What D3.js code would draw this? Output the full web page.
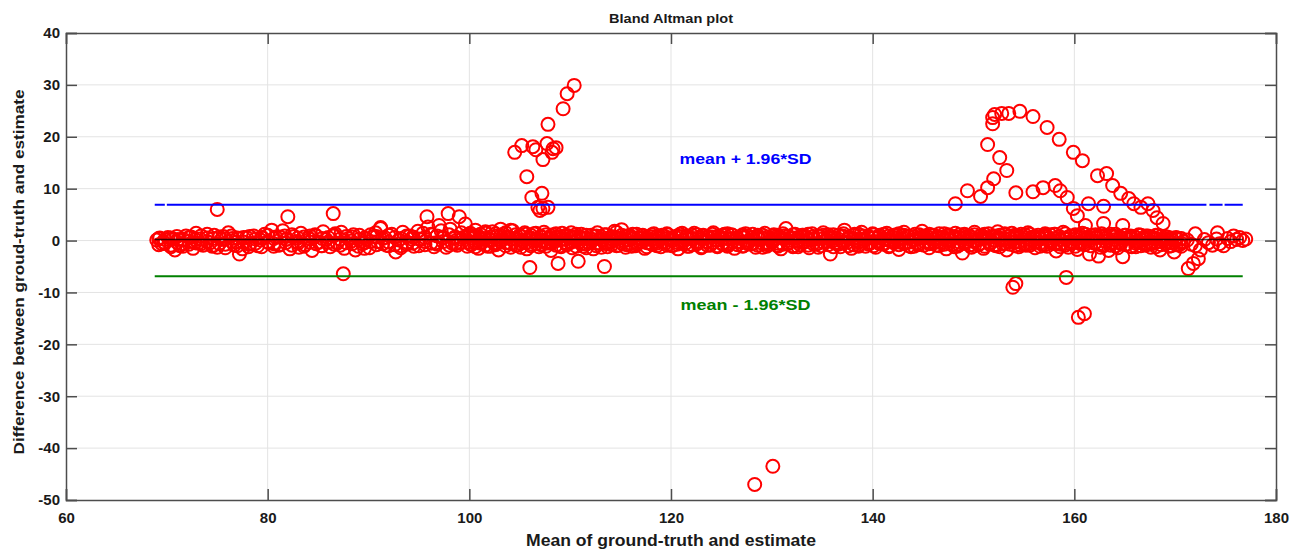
<!DOCTYPE html>
<html>
<head>
<meta charset="utf-8">
<script src="https://cdn.jsdelivr.net/npm/d3@7"></script>
<style>
  body { margin: 0; background: #fff; }
  text { font-family: "Liberation Sans", Arial, sans-serif; font-weight: bold; }
</style>
</head>
<body>
<svg id="chart" width="1298" height="554"></svg>
<script>
var xTicks = [60, 80, 100, 120, 140, 160, 180];
var yTicks = [-50, -40, -30, -20, -10, 0, 10, 20, 30, 40];

// mean difference and limits of agreement
var meanDiff = 0.2;
var upperLimit = 6.9;
var lowerLimit = -6.9;
var lineRange = [68.8, 176.7];
var upperSegments = [[68.8, 69.8], [70.0, 173.1], [173.4, 174.7], [174.9, 176.7]];

// band of points near zero
var bandPoints = [
  [69.0,0.1],[69.3,0.5],[69.7,-0.3],[70.1,0.6],[70.4,-1.2],[70.8,-1.8],[71.1,0.2],[71.5,-0.6],[71.9,0.9],[72.2,-0.2],
  [72.6,-1.5],[72.9,1.4],[73.3,0.3],[73.6,-0.9],[74.0,0.5],[74.3,-0.4],[74.7,1.0],[75.0,-1.3],[75.4,0.2],[75.8,-0.7],
  [76.1,1.5],[76.5,0.4],[76.9,-0.3],[77.2,-2.6],[77.5,-1.6],[77.9,0.6],[78.3,-0.5],[78.6,0.9],[79.0,-1.0],[79.3,0.1],
  [79.7,1.2],[80.1,-0.4],[80.4,2.0],[80.8,0.7],[81.1,-0.9],[81.5,1.9],[81.9,0.3],[82.2,-1.6],[82.6,0.8],[82.9,-0.2],
  [83.3,1.4],[83.7,-0.8],[84.0,0.5],[84.4,-1.9],[84.7,1.1],[85.1,-0.3],[85.5,1.7],[85.8,0.2],[86.2,-1.2],[86.5,0.9],
  [86.9,-0.5],[87.3,1.6],[87.6,-1.5],[88.0,0.4],[88.3,-0.1],[88.7,-1.8],[89.1,1.0],[89.4,-0.6],[89.8,0.3],[90.1,-1.4],
  [90.5,0.8],[90.9,-0.2],[91.2,2.3],[91.6,0.6],[92.0,-1.0],[92.3,1.2],[92.7,-2.2],[93.0,0.1],[93.4,1.6],[93.8,-0.7],
  [94.1,0.9],[94.5,-1.1],[94.9,1.8],[95.2,0.2],[95.6,-0.8],[95.9,2.6],[96.3,1.1],[96.7,-0.4],[97.0,2.9],[97.4,0.7],
  [97.7,-1.3],[98.1,2.2],[98.5,0.4],[98.8,-0.9],[99.2,1.5],[99.6,3.2],[99.9,-0.3],
  [69.5,-0.6],[70.6,0.3],[71.3,-1.0],[72.4,0.7],[73.1,-0.5],[74.5,-1.1],[75.6,0.8],[76.7,-0.9],[78.1,-1.2],[79.5,0.5],
  [80.6,-1.1],[81.7,0.9],[83.1,-1.3],[84.2,0.9],[85.3,-1.0],[86.7,1.3],[88.5,1.1],[89.6,-1.5],[90.7,1.5],[91.8,-0.9],
  [93.2,-1.4],[94.3,0.3],[95.4,1.4],[96.5,-1.2],[97.2,1.9],[98.3,-0.5],[99.4,0.6],
  [100.0,1.1],[100.2,-0.8],[100.4,0.4],[100.6,2.0],[100.9,-1.5],[101.1,0.6],[101.3,-0.3],[101.6,1.4],[101.8,-1.1],[102.0,0.2],
  [102.3,1.7],[102.5,-0.6],[102.7,0.9],[102.9,-1.8],[103.2,0.1],[103.4,1.2],[103.6,-0.4],[103.9,0.7],[104.1,-1.3],[104.3,1.9],
  [104.6,0.3],[104.8,-0.9],[105.0,1.0],[105.3,-0.2],[105.5,1.5],[105.7,-1.6],[106.0,0.5],[106.2,-0.7],[106.4,1.3],[106.7,0.0],
  [106.9,-1.2],[107.1,0.8],[107.4,1.6],[107.6,-0.5],[107.8,0.4],[108.1,-1.9],[108.3,1.1],[108.5,-0.1],[108.8,0.7],[109.0,-1.0],
  [109.2,1.4],[109.5,0.2],[109.7,-0.8],[109.9,0.9],[110.2,-1.4],[110.4,0.5],[110.6,1.2],[110.9,-0.3],[111.1,0.6],[111.3,-1.1],
  [111.6,1.0],[111.8,-0.4],[112.0,0.3],[112.3,-1.6],[112.5,0.8],[112.7,1.5],[113.0,-0.6],[113.2,0.1],[113.4,1.1],[113.7,-1.2],
  [113.9,0.4],[114.1,-0.2],[114.4,1.8],[114.6,0.6],[114.8,-0.9],[115.1,2.1],[115.3,0.0],[115.5,-1.3],[115.8,0.9],[116.0,-0.5],
  [116.2,1.2],[116.5,-1.0],[116.7,0.5],[116.9,-0.3],[117.2,1.0],[117.4,-1.5],[117.6,0.2],[117.9,0.8],[118.1,-0.7],[118.3,1.3],
  [118.6,-0.1],[118.8,0.6],[119.0,-1.2],[119.3,0.9],[119.5,-0.4],[119.7,1.1],[120.0,0.2],[120.2,-0.9],[120.4,0.7],[120.7,-1.6],
  [120.9,1.2],[121.1,0.0],[121.4,-0.6],[121.6,0.9],[121.8,-1.1],[122.1,0.4],[122.3,1.4],[122.5,-0.3],[122.8,0.6],[123.0,-1.4],
  [123.2,1.0],[123.5,-0.2],[123.7,0.8],[123.9,-0.9],[124.2,1.5],[124.4,0.1],[124.6,-1.2],[124.9,0.7],[125.1,-0.5],[125.3,1.2],
  [125.6,-0.8],[125.8,0.3],[126.0,1.1],[126.3,-1.5],[126.5,0.5],[126.7,-0.2],[127.0,0.9],[127.2,-1.0],[127.4,1.3],[127.7,0.0],
  [127.9,-0.7],[128.1,0.6],[128.4,-1.3],[128.6,1.0],[128.8,0.2],[129.1,-0.6],[129.3,1.4],[129.5,-1.1],[129.8,0.4],[130.0,-0.3],
  [130.2,1.1],[130.5,-0.9],[130.7,0.7],[130.9,-1.6],[131.2,0.9],[131.4,2.3],[131.6,-0.4],[131.9,0.5],[132.1,-1.2],[132.3,1.2],
  [132.6,0.1],[132.8,-0.8],[133.0,1.0],[133.3,-0.2],[133.5,0.6],[133.7,-1.4],[134.0,1.3],[134.2,0.3],[134.4,-0.7],[134.7,0.8],
  [134.9,-1.0],[135.1,1.5],[135.4,-0.1],[135.6,0.7],[135.8,-2.6],[136.1,1.1],[136.3,-0.5],[136.5,0.4],[136.8,-1.2],[137.0,0.9],
  [137.2,2.0],[137.5,-0.3],[137.7,0.6],[137.9,-1.5],[138.2,1.2],[138.4,0.0],[138.6,-0.8],[138.9,1.6],[139.1,0.3],[139.3,-1.1],
  [139.6,0.8],[139.8,-0.4],[140.0,1.3],[140.3,-1.3],[140.5,0.5],[140.7,1.0],[141.0,-0.6],[141.2,0.2],[141.4,1.4],[141.7,-1.0],
  [141.9,0.7],[142.1,-0.2],[142.4,1.1],[142.6,-1.7],[142.8,0.4],[143.1,1.6],[143.3,-0.5],[143.5,0.9],[143.8,-1.2],[144.0,0.1],
  [144.2,1.2],[144.5,-0.8],[144.7,0.6],[144.9,1.8],[145.2,-0.3],[145.4,0.8],[145.6,-1.4],[145.9,1.0],[146.1,0.2],[146.3,-0.9],
  [146.6,1.3],[146.8,-0.4],[147.0,0.7],[147.3,-1.6],[147.5,1.1],[147.7,0.3],[148.0,-0.7],[148.2,1.4],[148.4,-1.1],[148.7,0.5],
  [148.9,-2.4],[149.1,1.2],[149.4,-0.2],[149.6,0.9],[149.8,-1.3],[150.1,1.6],[150.3,0.0],[150.5,-0.8],[150.8,1.0],[151.0,-1.5],
  [151.2,0.6],[151.5,1.3],[151.7,-0.4],[151.9,0.8],[152.2,-1.0],[152.4,1.7],[152.6,0.2],[152.9,-0.6],[153.1,1.1],[153.3,-1.8],
  [153.6,0.4],[153.8,1.4],[154.0,-0.3],[154.3,0.9],[154.5,-1.2],[154.7,1.2],[155.0,0.1],[155.2,-0.9],[155.4,1.5],[155.7,-0.5],
  [155.9,0.7],[156.1,-1.4],[156.4,1.0],[156.6,0.3],[156.8,-0.7],[157.1,1.3],[157.3,-1.1],[157.5,0.5],[157.8,-0.2],[158.0,1.2],
  [158.2,-2.0],[158.5,0.8],[158.7,-0.6],[158.9,1.6],[159.2,0.2],[159.4,-1.3],[159.6,0.9],[159.9,-0.4],[160.1,1.1],[160.3,-1.7],
  [160.6,0.6],[160.8,1.4],[161.0,-0.8],[161.3,0.3],[161.5,-2.6],[161.7,1.0],[162.0,-0.5],[162.2,0.7],[162.4,-3.0],[162.7,1.3],
  [162.9,-1.0],[163.1,0.4],[163.4,-1.9],[163.6,0.9],[163.8,-0.3],[164.1,1.2],[164.3,-1.4],[164.5,0.5],[164.8,-3.1],[165.0,1.0],
  [165.2,-0.7],[165.5,0.6],[165.7,-1.2],[165.9,0.8],[166.2,-0.2],[166.4,1.1],[166.6,-1.0],[166.9,0.3],[167.1,-0.6],[167.3,0.9],
  [167.6,-1.3],[167.8,0.4],[168.0,-0.4],[168.3,1.0],[168.5,-1.8],[168.7,0.2],[169.0,-0.5],[169.2,0.7],[169.4,-1.1],[169.7,0.1],
  [169.9,-2.2],[170.1,0.5],[170.4,-0.8],[170.6,0.3],[170.8,-0.2],
  [171.2,0.1],[171.6,-0.7],[172.0,-1.0],[172.5,-1.8],[172.9,0.2],[173.3,-0.4],[173.7,-0.9],[174.1,0.3],[174.4,-0.6],[174.8,-1.0],
  [175.2,0.4],[175.5,-0.2],[175.8,0.9],[176.1,0.2],[176.4,0.6],[176.7,0.0],[177.0,0.3]
];

// repeated readings: [x, y1, y2, ...] at the same mean
var bandStacks = [
  [69.2,0.4,-0.8],[69.8,0.2,-0.5],[70.4,0.5,-0.9],[71.0,-0.3,0.8],[71.6,0.3,-1.1],[72.2,0.6,-0.7],[72.8,-0.4,0.2],[73.4,0.9,-0.6],[74.0,-0.2,1.2],[74.6,0.4,-0.9],
  [75.2,-0.6,0.7],[75.8,0.3,-1.4],[76.4,-0.1,0.9],[77.0,0.5,-1.0],[77.6,-0.3,0.6],[78.2,0.8,-0.7],[78.8,-0.5,0.3],[79.4,0.6,-1.2],[80.0,-0.2,1.0],[80.6,0.4,-0.6],
  [81.2,-0.8,0.7],[81.8,0.2,-0.4],[82.4,1.1,-0.9],[83.0,-0.5,0.5],[83.6,0.7,-1.1],[84.2,-0.3,0.3],[84.8,0.9,-0.6],[85.4,-1.0,0.4],[86.0,0.6,-0.3],[86.6,-0.7,1.0],
  [87.2,0.3,-0.9],[87.8,-0.4,0.8],[88.4,0.7,-0.6],[89.0,-1.1,0.2],[89.6,0.5,-0.4],[90.2,-0.2,1.1],[90.8,0.8,-0.8],[91.4,-0.6,0.4],[92.0,1.0,-0.3],[92.6,-0.8,0.6],
  [93.2,0.4,-1.0],[93.8,-0.3,0.9],[94.4,0.7,-0.5],[95.0,-1.0,0.3],[95.6,0.6,-0.2],[96.2,-0.5,1.2],[96.8,0.9,-0.7],[97.4,-0.2,0.5],[98.0,1.1,-0.9],[98.6,-0.6,0.7],
  [99.2,0.3,-0.4],[99.8,1.0,-1.1],
  [100.1,0.5,-0.7,1.4],[100.6,-0.3,0.9,-1.2],[101.1,1.2,-0.5,0.2],[101.6,-0.9,0.4,1.7],[102.1,0.7,-1.1,0.1],[102.6,-0.4,1.3,-0.8],[103.1,0.9,-0.2,2.2],[103.6,-1.0,0.6,1.5],[104.1,0.3,-0.6,2.0],[104.6,1.1,-0.9,0.4],
  [105.1,-0.5,0.8,-1.3],[105.6,0.2,-0.4,1.2],[106.1,1.0,-1.0,0.5],[106.6,-0.6,0.3,1.4],[107.1,0.7,-0.8,0.0],[107.6,-0.2,1.1,-1.1],[108.1,0.9,-0.5,0.4],[108.6,-0.9,0.6,1.3],[109.1,0.3,-1.2,0.8],[109.6,-0.4,1.0,-0.7],
  [110.1,0.6,-0.3,1.5],[110.6,-1.1,0.8,0.1],[111.1,0.4,-0.6,1.2],[111.6,-0.7,0.5,-1.4],[112.1,1.0,-0.2,0.3],[112.6,-0.5,0.9,-1.0],[113.1,0.7,-1.3,0.2],[113.6,-0.3,1.1,-0.6],[114.1,0.8,-0.8,0.4],[114.6,-1.0,0.3,1.6],
  [115.1,0.5,-0.5,1.0],[115.6,-0.8,0.9,0.1],[116.1,0.3,-1.1,0.7],[116.6,-0.4,1.2,-0.7],[117.1,0.9,-0.2,0.4],[117.6,-1.2,0.6,-0.4],[118.1,0.2,-0.7,1.1],[118.6,-0.5,0.8,-1.0],[119.1,1.0,-0.3,0.5],[119.6,-0.9,0.4,1.3],
  [120.1,0.6,-1.0,0.0],[120.6,-0.3,0.9,-0.7],[121.1,0.8,-0.5,1.4],[121.6,-1.1,0.3,0.7],[122.1,0.4,-0.8,1.0],[122.6,-0.6,1.1,-0.2],[123.1,0.9,-1.2,0.3],[123.6,-0.2,0.6,-0.9],[124.1,0.7,-0.4,1.2],[124.6,-1.0,0.8,0.1],
  [125.1,0.3,-0.7,1.0],[125.6,-0.5,1.3,-1.1],[126.1,1.0,-0.2,0.4],[126.6,-0.8,0.5,-0.3],[127.1,0.6,-1.1,1.1],[127.6,-0.3,0.9,-0.6],[128.1,1.2,-0.5,0.2],[128.6,-0.9,0.4,0.8],[129.1,0.5,-1.3,1.0],[129.6,-0.4,0.7,-0.8],
  [130.1,0.9,-0.2,0.3],[130.6,-1.1,1.0,-0.5],[131.1,0.4,-0.7,1.3],[131.6,-0.6,0.8,0.0],[132.1,1.1,-1.0,0.5],[132.6,-0.2,0.6,-1.2],[133.1,0.7,-0.4,1.0],[133.6,-0.9,1.2,0.2],[134.1,0.3,-0.6,0.8],[134.6,-0.5,0.9,-1.3],
  [135.1,1.0,-0.3,0.4],[135.6,-0.8,0.5,1.1],[136.1,0.6,-1.2,0.0],[136.6,-0.4,1.0,-0.7],[137.1,0.8,-0.5,1.3],[137.6,-1.0,0.3,0.6],[138.1,0.4,-0.8,1.0],[138.6,-0.3,1.2,-1.1],[139.1,0.9,-0.1,0.3],[139.6,-0.7,0.6,-0.4],
  [140.1,1.1,-1.0,0.5],[140.6,-0.5,0.8,-0.2],[141.1,0.3,-0.7,1.2],[141.6,-1.2,0.9,0.1],[142.1,0.6,-0.4,1.0],[142.6,-0.8,1.3,-0.3],[143.1,1.0,-0.6,0.4],[143.6,-0.3,0.7,-1.0],[144.1,0.8,-1.1,0.2],[144.6,-0.6,0.4,1.1],
  [145.1,0.5,-0.9,0.9],[145.6,-0.2,1.2,-0.6],[146.1,1.0,-0.4,0.3],[146.6,-1.0,0.6,-0.2],[147.1,0.3,-0.7,1.3],[147.6,-0.5,0.9,0.0],[148.1,0.8,-1.2,0.5],[148.6,-0.3,1.1,-0.8],[149.1,0.6,-0.5,1.0],[149.6,-0.9,0.3,0.7],
  [150.1,1.1,-0.2,-1.0],[150.6,-0.6,0.8,0.3],[151.1,0.4,-1.1,1.2],[151.6,-0.4,0.6,-0.7],[152.1,0.9,-0.8,0.1],[152.6,-1.2,1.0,0.5],[153.1,0.3,-0.5,1.3],[153.6,-0.7,0.9,-0.2],[154.1,1.0,-1.0,0.4],[154.6,-0.3,0.7,-0.8],
  [155.1,0.6,-0.6,1.1],[155.6,-0.9,1.2,0.2],[156.1,0.4,-0.3,0.8],[156.6,-1.1,0.5,-0.5],[157.1,0.8,-0.8,1.0],[157.6,-0.4,1.1,0.0],[158.1,1.2,-0.6,0.4],[158.6,-0.7,0.3,-1.2],[159.1,0.5,-0.9,1.3],[159.6,-0.2,0.8,-0.6],
  [160.1,0.9,-1.1,0.3],[160.6,-0.6,1.0,-0.3],[161.1,0.3,-0.7,1.2],[161.6,-1.0,0.6,0.1],[162.1,1.1,-0.4,0.5],[162.6,-0.8,0.9,-1.3],[163.1,0.5,-0.2,1.0],[163.6,-0.5,1.2,-0.9],[164.1,0.8,-1.0,0.2],[164.6,-0.3,0.6,-0.6],
  [165.1,1.0,-0.8,0.4],[165.6,-1.1,0.4,0.9],[166.1,0.6,-0.5,-1.2],[166.6,-0.4,1.0,0.1],[167.1,0.9,-0.9,0.5],[167.6,-0.6,0.7,-0.3],[168.1,0.4,-1.2,1.0],[168.6,-0.2,0.8,-0.8],[169.1,0.7,-0.6,0.2],[169.6,-1.0,0.5,-0.4],
  [170.1,0.3,-0.8,0.6],[170.6,-0.5,0.4,-1.1]
];

// points far from the band
var outlierPoints = [
  [75.0,6.0],[82.0,4.6],[86.5,5.2],[87.5,-6.4],[95.8,4.6],[97.9,5.2],[99.0,4.6],[91.2,2.5],
  [110.4,29.9],[109.7,28.3],[109.3,25.4],[107.8,22.4],[104.5,17.0],[105.2,18.3],[106.3,18.1],[106.6,17.5],
  [107.3,15.6],[107.7,18.7],[108.3,17.7],[108.6,17.9],[108.2,17.0],[105.7,12.3],[106.2,8.3],[107.2,9.1],
  [106.8,6.4],[107.3,6.2],[107.8,6.4],[107.0,5.8],
  [106.0,-5.2],[108.8,-4.4],[110.8,-4.0],[113.4,-5.0],
  [128.3,-47.0],[130.1,-43.5],
  [154.6,24.9],[153.5,24.5],[152.8,24.5],[152.1,24.3],[151.9,23.7],[151.9,22.5],[155.9,23.9],[157.3,21.8],
  [158.5,19.5],[159.9,17.0],[160.8,15.4],[151.4,18.5],[152.6,16.0],[153.3,13.5],[162.3,12.5],[163.2,12.9],
  [163.8,10.6],[164.6,9.1],[165.4,8.1],[165.9,7.1],[166.6,6.4],[167.3,7.1],[167.8,5.8],[168.2,4.4],[168.8,3.3],
  [152.0,11.9],[151.4,10.2],[150.7,8.5],[149.4,9.6],[148.2,7.1],[154.2,9.2],[155.9,9.4],[156.9,10.2],[158.1,10.6],
  [158.6,9.6],[159.3,8.3],[159.9,6.2],[160.3,4.8],[161.4,7.1],[162.9,6.6],[161.1,2.9],[162.9,3.3],[164.8,2.9],
  [172.0,1.3],[174.2,1.5],[171.3,-5.4],[171.8,-4.4],[172.3,-3.5],
  [154.2,-8.3],[153.9,-9.0],[159.2,-7.1],[161.0,-14.1],[160.4,-14.8]
];

var W = 1298, H = 554;
var margin = { left: 66, right: 22, top: 33, bottom: 54 };
var svg = d3.select("#chart");

var x = d3.scaleLinear().domain([60, 180]).range([margin.left, W - margin.right]);
var y = d3.scaleLinear().domain([-50, 40]).range([H - margin.bottom, margin.top]);

var x0 = x.range()[0], x1 = x.range()[1], y0 = y.range()[0], y1 = y.range()[1];

var stackPoints = bandStacks.flatMap(function(r){
  return r.slice(1).map(function(v){ return [r[0], v]; });
});
var allPoints = bandPoints.concat(stackPoints, outlierPoints);

// grid
svg.append("g")
  .selectAll("line")
  .data(xTicks.slice(1, -1))
  .join("line")
  .attr("x1", function(d){ return x(d); }).attr("x2", function(d){ return x(d); })
  .attr("y1", y1).attr("y2", y0)
  .attr("stroke", "#e3e3e3").attr("stroke-width", 1);
svg.append("g")
  .selectAll("line")
  .data(yTicks.slice(1, -1))
  .join("line")
  .attr("x1", x0).attr("x2", x1)
  .attr("y1", function(d){ return y(d); }).attr("y2", function(d){ return y(d); })
  .attr("stroke", "#e3e3e3").attr("stroke-width", 1);

// points
svg.append("g")
  .selectAll("circle")
  .data(allPoints)
  .join("circle")
  .attr("cx", function(d){ return x(d[0]); })
  .attr("cy", function(d){ return y(d[1]); })
  .attr("r", 6.5)
  .attr("fill", "none")
  .attr("stroke", "#ff0000")
  .attr("stroke-width", 2);

// mean line
svg.append("line")
  .attr("x1", x(lineRange[0])).attr("x2", x(lineRange[1]))
  .attr("y1", y(meanDiff)).attr("y2", y(meanDiff))
  .attr("stroke", "#000").attr("stroke-opacity", 0.75).attr("stroke-width", 1.3);

// limits of agreement
svg.append("g")
  .selectAll("line")
  .data(upperSegments)
  .join("line")
  .attr("x1", function(d){ return x(d[0]); }).attr("x2", function(d){ return x(d[1]); })
  .attr("y1", y(upperLimit)).attr("y2", y(upperLimit))
  .attr("stroke", "#0000ff").attr("stroke-width", 2);
svg.append("line")
  .attr("x1", x(lineRange[0])).attr("x2", x(lineRange[1]))
  .attr("y1", y(lowerLimit)).attr("y2", y(lowerLimit))
  .attr("stroke", "#008000").attr("stroke-width", 2);

svg.append("text")
  .attr("x", x(127.4)).attr("y", y(15.8) + 5)
  .attr("text-anchor", "middle").attr("font-size", 15).attr("fill", "#0000ff")
  .attr("textLength", 132).attr("lengthAdjust", "spacingAndGlyphs")
  .text("mean + 1.96*SD");
svg.append("text")
  .attr("x", x(127.4)).attr("y", y(-12.5) + 5)
  .attr("text-anchor", "middle").attr("font-size", 15).attr("fill", "#008000")
  .attr("textLength", 130).attr("lengthAdjust", "spacingAndGlyphs")
  .text("mean - 1.96*SD");

// axes (box with inward ticks)
var axisColor = "#4d4d4d";
var plainNum = function(d){ return String(d); };
svg.append("g").attr("transform", "translate(0," + y0 + ")")
  .call(d3.axisBottom(x).tickValues(xTicks).tickSize(-11).tickPadding(12).tickFormat(plainNum));
svg.append("g").attr("transform", "translate(0," + y1 + ")")
  .call(d3.axisTop(x).tickValues(xTicks).tickSize(-11).tickFormat(""));
svg.append("g").attr("transform", "translate(" + x0 + ",0)")
  .call(d3.axisLeft(y).tickValues(yTicks).tickSize(-11).tickPadding(6).tickFormat(plainNum));
svg.append("g").attr("transform", "translate(" + x1 + ",0)")
  .call(d3.axisRight(y).tickValues(yTicks).tickSize(-11).tickFormat(""));

svg.selectAll(".domain").attr("stroke", axisColor).attr("stroke-width", 1.5);
svg.selectAll(".tick line").attr("stroke", axisColor).attr("stroke-width", 1.5);
svg.selectAll(".tick text")
  .attr("fill", "#1a1a1a")
  .attr("font-size", 15)
  .attr("font-family", "'Liberation Sans', Arial, sans-serif")
  .attr("font-weight", "bold");

// titles
svg.append("text")
  .attr("x", (x0 + x1) / 2).attr("y", 23)
  .attr("text-anchor", "middle").attr("font-size", 13.5).attr("fill", "#1a1a1a")
  .attr("textLength", 124).attr("lengthAdjust", "spacingAndGlyphs")
  .text("Bland Altman plot");
svg.append("text")
  .attr("x", (x0 + x1) / 2).attr("y", 546)
  .attr("text-anchor", "middle").attr("font-size", 16).attr("fill", "#1a1a1a")
  .attr("textLength", 290).attr("lengthAdjust", "spacingAndGlyphs")
  .text("Mean of ground-truth and estimate");
svg.append("text")
  .attr("transform", "translate(24,272) rotate(-90)")
  .attr("text-anchor", "middle").attr("font-size", 15.5).attr("fill", "#1a1a1a")
  .attr("textLength", 365).attr("lengthAdjust", "spacingAndGlyphs")
  .text("Difference between groud-truth and estimate");
</script>
</body>
</html>
